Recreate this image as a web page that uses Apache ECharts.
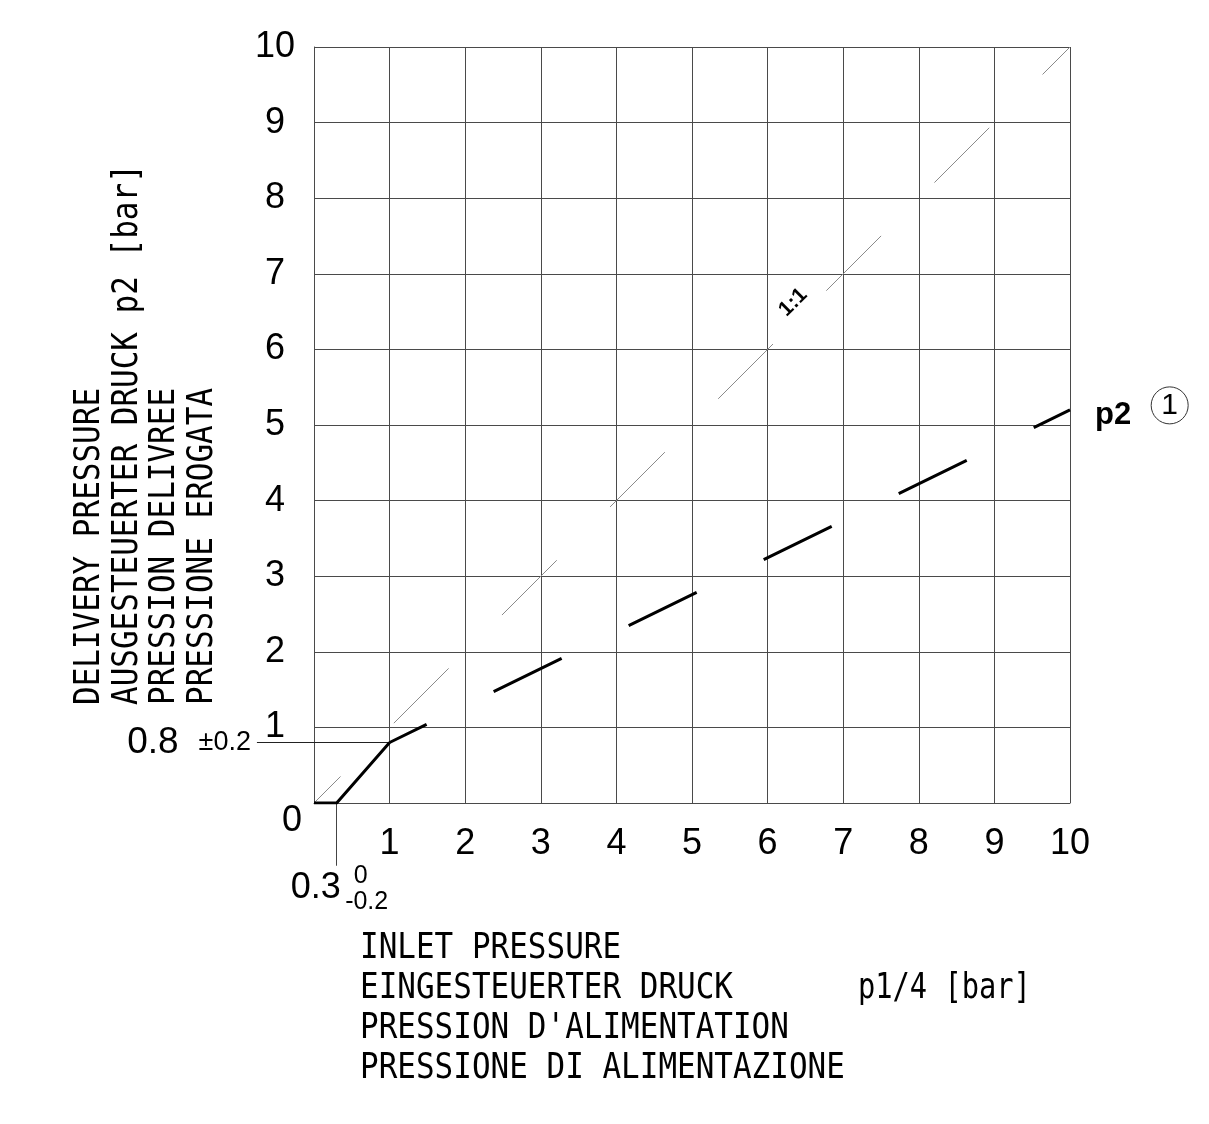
<!DOCTYPE html>
<html><head><meta charset="utf-8">
<script src="https://cdn.jsdelivr.net/npm/echarts@6/dist/echarts.min.js"></script>
<style>html,body{margin:0;padding:0;background:#fff}#c{width:1209px;height:1124px}</style>
</head><body><div id="c"></div>
<script>
// ---- data ----
const xTickValues = [0,1,2,3,4,5,6,7,8,9,10];
const yTickValues = [0,1,2,3,4,5,6,7,8,9,10];
// p2 characteristic: inlet pressure p1/4 [bar] -> delivery pressure p2 [bar]
const p2Start = [[0,0],[0.3,0],[1,0.8]];
const p2Rise = [[1,0.8],[10,5.2]];
const ref11 = [[0,0],[10,10]];
// leader lines of the annotations (extend outside the plot)
const leader08 = [[-0.755,0.8],[1,0.8]];
const leader03 = [[0.3,0],[0.3,-0.83]];
const label11At = [6.33,6.63];
const xTitleLines = ['INLET PRESSURE','EINGESTEUERTER DRUCK','PRESSION D\'ALIMENTATION','PRESSIONE DI ALIMENTAZIONE'];
const xUnit = 'p1/4 [bar]';
const yTitleLines = ['DELIVERY PRESSURE','AUSGESTEUERTER DRUCK p2 [bar]','PRESSION DELIVREE','PRESSIONE EROGATA'];

const SANS = '"Liberation Sans", Arial, sans-serif';
const MONO = '"DejaVu Sans Mono", monospace';
const gridColor = '#4a4a4a';

const chart = echarts.init(document.getElementById('c'));

const graphics = [];
xTitleLines.forEach((t,i)=>{
  graphics.push({type:'text', x:360, y:949+40*i, scaleX:0.885,
    style:{text:t, font:'35px '+MONO, fill:'#000', align:'left', verticalAlign:'middle'}});
});
graphics.push({type:'text', x:858, y:989, scaleX:0.82,
  style:{text:xUnit, font:'35px '+MONO, fill:'#000', align:'left', verticalAlign:'middle'}});
yTitleLines.forEach((t,i)=>{
  graphics.push({type:'text', x:90+37.7*i, y:705, rotation:Math.PI/2, scaleX:0.885,
    style:{text:t, font:'35px '+MONO, fill:'#000', align:'left', verticalAlign:'middle'}});
});

const annotations = [
  {value:[0,0], label:{formatter:'0', offset:[-22,18]}},
  {value:leader08[0], label:{position:'left', distance:6, formatter:'{a|0.8}  {b|\u00b10.2}',
     rich:{a:{fontSize:37,fontFamily:SANS,color:'#000'}, b:{fontSize:27,fontFamily:SANS,color:'#000'}}}},
  {value:leader03[1], label:{formatter:'0.3', align:'right', offset:[4,22]}},
  {value:leader03[1], label:{formatter:'0', fontSize:25, offset:[24,10]}},
  {value:leader03[1], label:{formatter:'-0.2', fontSize:25, offset:[30,36]}},
  {value:label11At, label:{formatter:'1:1', fontSize:21, fontWeight:'bold', rotate:45, offset:[0,1]}}
];

chart.setOption({
  animation:false,
  backgroundColor:'#fff',
  grid:{left:314, right:139, top:47, bottom:321, containLabel:false, outerBoundsMode:'none'},
  xAxis:{type:'value', min:0, max:10, interval:1,
    axisLine:{show:true, onZero:false, lineStyle:{color:gridColor,width:1}},
    axisTick:{show:false},
    splitLine:{show:true, lineStyle:{color:gridColor,width:1}},
    axisLabel:{show:true, showMinLabel:false, margin:23, fontSize:36, fontFamily:SANS, color:'#000',
      formatter:v=> xTickValues.includes(v) && v!==0 ? String(v) : ''}},
  yAxis:{type:'value', min:0, max:10, interval:1,
    axisLine:{show:true, onZero:false, lineStyle:{color:gridColor,width:1}},
    axisTick:{show:false},
    splitLine:{show:true, lineStyle:{color:gridColor,width:1}},
    axisLabel:{show:true, showMinLabel:false, margin:39, align:'center', fontSize:36, fontFamily:SANS, color:'#000',
      formatter:v=> yTickValues.includes(v) && v!==0 ? String(v) : ''}},
  graphic:graphics,
  series:[
    {type:'line', name:'1:1', data:ref11, symbol:'none', silent:true,
      lineStyle:{color:'#8a8a8a', width:1, type:[77.5,75.4], dashOffset:40}},
    {type:'lines', name:'leaders', coordinateSystem:'cartesian2d', clip:false, silent:true,
      data:[{coords:leader08, lineStyle:{color:'#222'}}, {coords:leader03, lineStyle:{color:'#444'}}],
      lineStyle:{width:1, opacity:1, curveness:0}},
    {type:'line', name:'p2a', data:p2Start, symbol:'none', silent:true,
      lineStyle:{color:'#000', width:3, join:'round'}},
    {type:'line', name:'p2', data:p2Rise, symbol:'none', silent:true,
      lineStyle:{color:'#000', width:3, type:[75.7,74.6], dashOffset:34.5},
      endLabel:{show:true, distance:25, offset:[0,-1], formatter:'{p|p2}{c|1}',
        rich:{p:{fontSize:31, fontWeight:'bold', fontFamily:SANS, color:'#000', lineHeight:44, verticalAlign:'bottom', padding:[0,20,0,0]},
              c:{fontSize:30, fontFamily:SANS, color:'#000', width:37, height:37, lineHeight:37, align:'center', verticalAlign:'top',
                 borderColor:'#333', borderWidth:1, borderRadius:19}}}},
    {type:'scatter', name:'annot', data:annotations, symbolSize:0, clip:false, silent:true,
      itemStyle:{color:'#000', opacity:1},
      label:{show:true, position:'inside', fontSize:36, fontFamily:SANS, color:'#000', opacity:1,
        textBorderWidth:0, textBorderColor:'transparent'}}
  ]
});
</script></body></html>
